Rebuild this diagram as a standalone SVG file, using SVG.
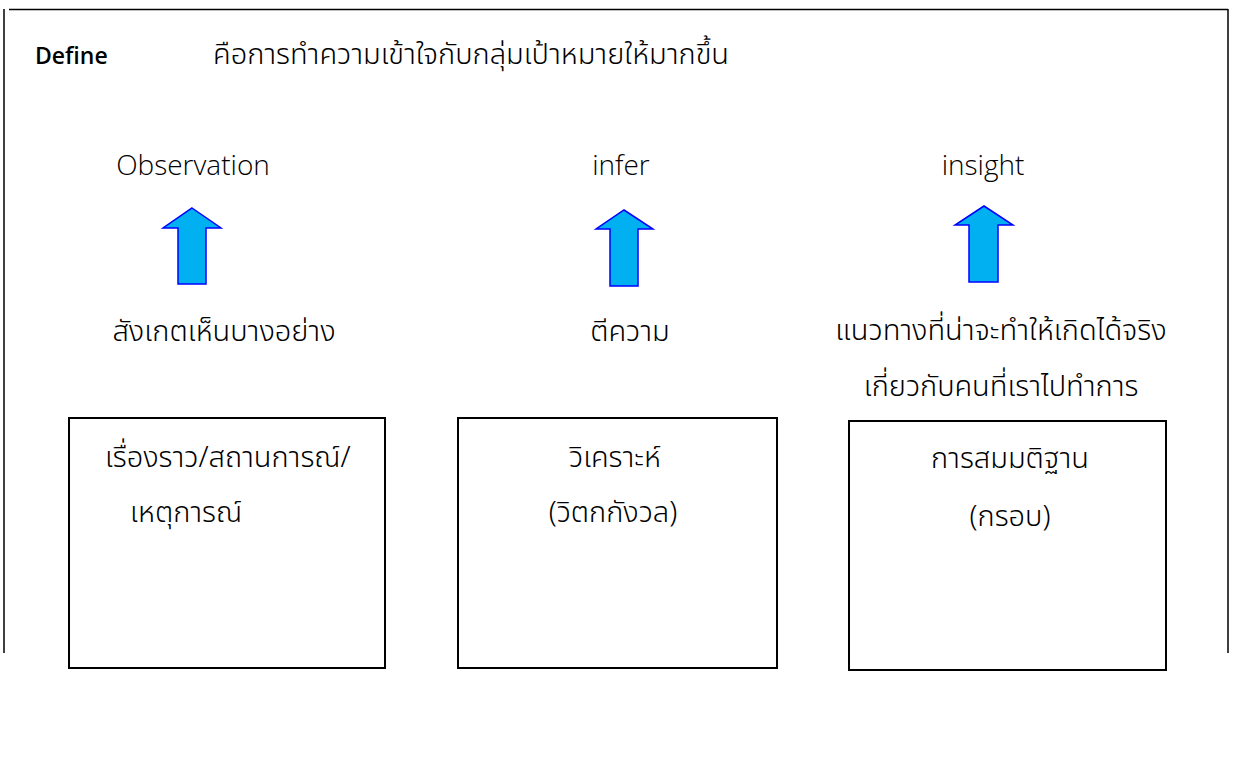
<svg xmlns="http://www.w3.org/2000/svg" width="1234" height="758" viewBox="0 0 1234 758">
<style>
.t{font-family:"Noto Sans Thai","Noto Sans Thai UI","Noto Sans","DejaVu Sans",sans-serif;font-size:29px;fill:#000;font-weight:300}
.e{font-family:"Open Sans","Noto Sans",sans-serif;font-size:28px;fill:#000;font-weight:300}
.b{font-family:"Open Sans","Noto Sans",sans-serif;font-size:23px;fill:#000;font-weight:600}
.box{fill:#fff;stroke:#000;stroke-width:2}
.arr{fill:#00b0f0;stroke:#0000ff;stroke-width:1.5}
.frame{fill:none;stroke:#000;stroke-width:1.5}
</style>
<rect width="1234" height="758" fill="#fff"/>
<g id="frame">
<path class="frame" d="M4,653 V9 M9,9.5 H1228 M1228,9 V653"/>
</g>
<g id="title">
<text class="b" x="35" y="64">Define</text>
<text class="t" x="213" y="64">คือการทำความเข้าใจกับกลุ่มเป้าหมายให้มากขึ้น</text>
</g>
<g id="col1">
<text class="e" x="193" y="175" text-anchor="middle">Observation</text>
<text class="t" x="224" y="341" text-anchor="middle">สังเกตเห็นบางอย่าง</text>
</g>
<g id="col2">
<text class="e" x="621" y="175" text-anchor="middle">infer</text>
<text class="t" x="630" y="341" text-anchor="middle">ตีความ</text>
</g>
<g id="col3">
<text class="e" x="983" y="175" text-anchor="middle">insight</text>
<text class="t" x="1001" y="340" text-anchor="middle">แนวทางที่น่าจะทำให้เกิดได้จริง</text>
<text class="t" x="1001" y="396" text-anchor="middle">เกี่ยวกับคนที่เราไปทำการ</text>
</g>
<g id="connectors">
<path class="arr" d="M192,208 L221,228 H206 V284 H178 V228 H163 Z"/>
<path class="arr" d="M624,210 L653,229 H638 V286 H610 V229 H596 Z"/>
<path class="arr" d="M984,206 L1013,225 H998 V282 H969 V225 H955 Z"/>
</g>
<g id="box1">
<rect class="box" x="69" y="418" width="316" height="250"/>
<text class="t" x="105" y="467">เรื่องราว/สถานการณ์/</text>
<text class="t" x="130" y="522">เหตุการณ์</text>
</g>
<g id="box2">
<rect class="box" x="458" y="418" width="319" height="250"/>
<text class="t" x="615" y="467" text-anchor="middle">วิเคราะห์</text>
<text class="t" x="613" y="522" text-anchor="middle">(วิตกกังวล)</text>
</g>
<g id="box3">
<rect class="box" x="849" y="421" width="317" height="249"/>
<text class="t" x="1010" y="468" text-anchor="middle">การสมมติฐาน</text>
<text class="t" x="1010" y="526" text-anchor="middle">(กรอบ)</text>
</g>
</svg>
